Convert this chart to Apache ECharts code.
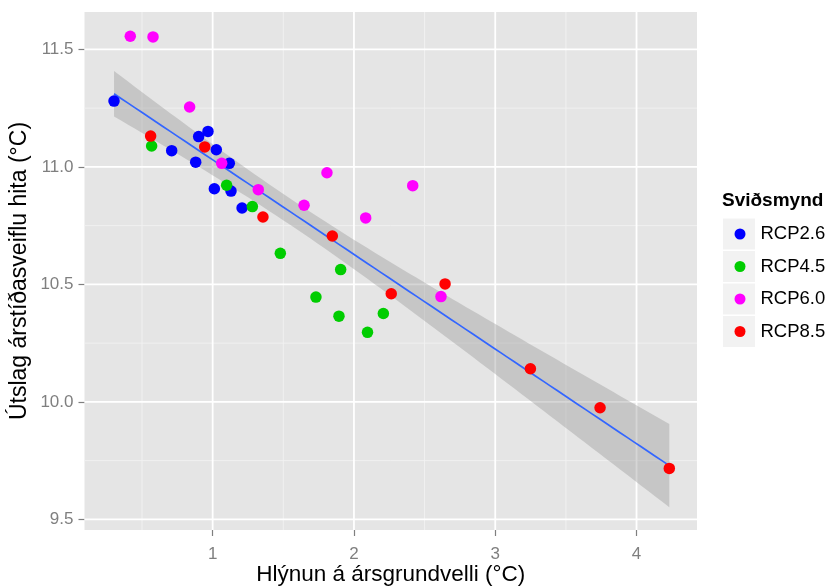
<!DOCTYPE html>
<html><head><meta charset="utf-8">
<script src="https://cdn.jsdelivr.net/npm/echarts@6/dist/echarts.min.js"></script>
<style>html,body{margin:0;padding:0;background:#fff}#c{width:827px;height:586px}</style>
</head><body><div id="c"></div>
<script>
const categories = ['RCP2.6', 'RCP4.5', 'RCP6.0', 'RCP8.5'];
const colors = ['#0000FF', '#00CD00', '#FF00FF', '#FF0000'];

const rcp26 = [[0.302,11.280],[0.710,11.069],[0.880,11.020],[0.901,11.129],[0.967,11.151],[1.026,11.073],[1.012,10.907],[1.118,11.015],[1.130,10.897],[1.208,10.825]];
const rcp45 = [[0.568,11.089],[1.099,10.922],[1.281,10.831],[1.479,10.632],[1.731,10.446],[1.894,10.365],[1.906,10.563],[2.096,10.296],[2.208,10.376]];
const rcp60 = [[0.417,11.556],[0.578,11.553],[0.837,11.255],[1.064,11.015],[1.323,10.903],[1.647,10.837],[1.809,10.975],[2.083,10.783],[2.416,10.920],[2.616,10.448]];
const rcp85 = [[0.561,11.131],[0.944,11.085],[1.356,10.787],[1.847,10.706],[2.264,10.460],[2.645,10.502],[3.249,10.141],[3.742,9.975],[4.232,9.717]];
const seriesData = [rcp26, rcp45, rcp60, rcp85];

const xTicks = [1, 2, 3, 4];
const yTicks = [9.5, 10.0, 10.5, 11.0, 11.5];
const xMinor = [0.5, 1.5, 2.5, 3.5];
const yMinor = [9.75, 10.25, 10.75, 11.25];
const xRange = [0.093, 4.428];
const yRange = [9.455, 11.659];

const xTitle = 'Hlýnun á ársgrundvelli (°C)';
const yTitle = 'Útslag árstíðasveiflu hita (°C)';
const legendTitle = 'Sviðsmynd';

// linear model fit (geom_smooth method = lm, 95% CI)
const all = [].concat(rcp26, rcp45, rcp60, rcp85);
const n = all.length;
const mx = all.reduce((s, p) => s + p[0], 0) / n;
const my = all.reduce((s, p) => s + p[1], 0) / n;
let sxx = 0, sxy = 0;
all.forEach(p => { sxx += (p[0] - mx) ** 2; sxy += (p[0] - mx) * (p[1] - my); });
const slope = sxy / sxx;
const intercept = my - slope * mx;
let rss = 0;
all.forEach(p => { rss += (p[1] - intercept - slope * p[0]) ** 2; });
const sigma = Math.sqrt(rss / (n - 2));
const tq = 2.028;
const xmin = Math.min(...all.map(p => p[0])), xmax = Math.max(...all.map(p => p[0]));
const nSmooth = 80;
const fit = [], upper = [], lower = [];
for (let i = 0; i < nSmooth; i++) {
  const x = xmin + (xmax - xmin) * i / (nSmooth - 1);
  const yhat = intercept + slope * x;
  const se = sigma * Math.sqrt(1 / n + (x - mx) ** 2 / sxx);
  fit.push([x, yhat]);
  upper.push([x, yhat + tq * se]);
  lower.push([x, yhat - tq * se]);
}

const gridSpecs = []
  .concat(xMinor.map(v => ({ dir: 'x', v, major: false })))
  .concat(yMinor.map(v => ({ dir: 'y', v, major: false })))
  .concat(xTicks.map(v => ({ dir: 'x', v, major: true })))
  .concat(yTicks.map(v => ({ dir: 'y', v, major: true })));

const FONT = '"Liberation Sans", Arial, Helvetica, sans-serif';
const chart = echarts.init(document.getElementById('c'));

const legendCenters = [234, 266.5, 299, 331.5];

const option = {
  animation: false,
  textStyle: { fontFamily: FONT },
  title: {
    text: legendTitle, left: 722, top: 191, padding: 0,
    textStyle: { fontFamily: FONT, fontSize: 19, fontWeight: 'bold', color: '#000' }
  },
  graphic: legendCenters.map(c => ({
    type: 'rect', left: 723, top: c - 15.5, z: -1,
    shape: { width: 32, height: 31 }, style: { fill: '#F2F2F2' }
  })),
  legend: {
    data: categories, orient: 'vertical', left: 734.5, top: 223, padding: 0,
    itemGap: 10.5, itemWidth: 11, itemHeight: 11, icon: 'circle', selectedMode: false,
    textStyle: { fontFamily: FONT, fontSize: 18.5, lineHeight: 22, color: '#000', padding: [0, 0, 0, 10] }
  },
  grid: {
    left: 84.5, right: 130, top: 12, bottom: 56, show: true,
    backgroundColor: '#E5E5E5', borderWidth: 0, containLabel: false, outerBoundsMode: 'none'
  },
  xAxis: {
    type: 'value', min: xRange[0], max: xRange[1],
    name: xTitle, nameLocation: 'middle', nameGap: 33, nameMoveOverlap: false,
    nameTextStyle: { fontFamily: FONT, fontSize: 22.5, color: '#000' },
    axisLine: { show: false },
    axisTick: { show: true, customValues: xTicks, length: 6, lineStyle: { color: '#7F7F7F', width: 1.2 } },
    axisLabel: { customValues: xTicks, margin: 16, fontFamily: FONT, fontSize: 17, color: '#7F7F7F', formatter: v => String(v) },
    splitLine: { show: false }
  },
  yAxis: {
    type: 'value', min: yRange[0], max: yRange[1],
    name: yTitle, nameLocation: 'middle', nameGap: 53, nameMoveOverlap: false,
    nameTextStyle: { fontFamily: FONT, fontSize: 23, color: '#000' },
    axisLine: { show: false },
    axisTick: { show: true, customValues: yTicks, length: 6, lineStyle: { color: '#7F7F7F', width: 1.2 } },
    axisLabel: { customValues: yTicks, margin: 11, fontFamily: FONT, fontSize: 17, color: '#7F7F7F', formatter: v => v.toFixed(1) },
    splitLine: { show: false }
  },
  series: [
    {
      type: 'custom', name: 'grid', silent: true, z: 1,
      data: gridSpecs.map((_, i) => [i]),
      renderItem: (params, api) => {
        const g = gridSpecs[params.dataIndex];
        let p1, p2;
        if (g.dir === 'x') { p1 = api.coord([g.v, yRange[0]]); p2 = api.coord([g.v, yRange[1]]); }
        else { p1 = api.coord([xRange[0], g.v]); p2 = api.coord([xRange[1], g.v]); }
        return {
          type: 'line', shape: { x1: p1[0], y1: p1[1], x2: p2[0], y2: p2[1] },
          style: { stroke: g.major ? '#FFFFFF' : '#F2F2F2', lineWidth: g.major ? 1.8 : 0.9 }
        };
      }
    },
    {
      type: 'custom', name: 'band', silent: true, z: 2,
      data: [[mx, my]],
      renderItem: (params, api) => {
        const pts = upper.map(p => api.coord(p)).concat(lower.slice().reverse().map(p => api.coord(p)));
        return { type: 'polygon', shape: { points: pts }, style: { fill: 'rgba(153,153,153,0.4)' } };
      }
    },
    {
      type: 'line', name: 'fit', data: fit, showSymbol: false, silent: true, z: 3,
      lineStyle: { color: '#3366FF', width: 1.7 }
    },
    ...categories.map((c, i) => ({
      type: 'scatter', name: c, data: seriesData[i], symbolSize: 11.5, z: 4 + i,
      itemStyle: { color: colors[i], opacity: 1 }
    }))
  ]
};
chart.setOption(option);
</script>
</body></html>
